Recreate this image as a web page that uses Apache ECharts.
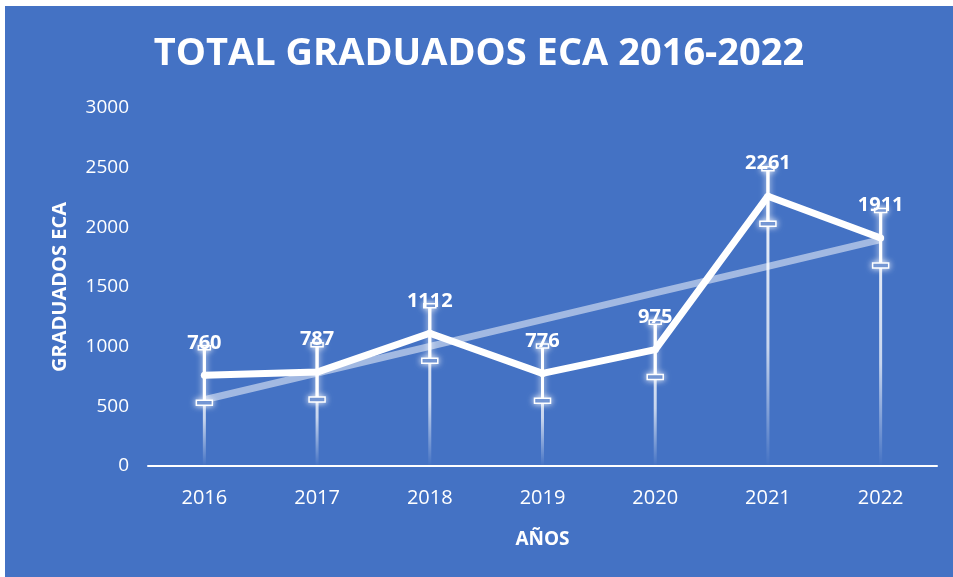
<!DOCTYPE html>
<html>
<head>
<meta charset="utf-8">
<script src="https://cdn.jsdelivr.net/npm/echarts@6/dist/echarts.min.js"></script>
<style>
html, body { margin:0; padding:0; background:#fff; }
#chart { position:absolute; left:5px; top:6px; width:948px; height:571px; }
</style>
</head>
<body>
<div id="chart"></div>
<script>
// datos
var years = ['2016', '2017', '2018', '2019', '2020', '2021', '2022'];
var graduados = [760, 787, 1112, 776, 975, 2261, 1911];
var tendencia = [555, 779, 1002, 1226, 1450, 1673, 1897];
var errorEst = [230, 230, 230, 230, 230, 230, 230];

var font = '"Open Sans", "Liberation Sans", sans-serif';

var puntos = years.map(function (y, i) { return [i, graduados[i], errorEst[i]]; });

echarts.init(document.getElementById('chart')).setOption({
    backgroundColor: '#4472C4',
    animation: false,
    title: {
        text: 'TOTAL GRADUADOS ECA 2016-2022',
        left: 'center',
        top: 24,
        textStyle: { color: '#fff', fontSize: 38, fontWeight: 'bold', fontFamily: font }
    },
    grid: { left: 143, right: 16, top: 102, bottom: 111 },
    xAxis: {
        type: 'category',
        data: years,
        name: 'AÑOS',
        nameLocation: 'middle',
        nameGap: 64,
        nameTextStyle: { color: '#fff', fontSize: 19, fontWeight: 'bold', fontFamily: font },
        axisLine: { lineStyle: { color: '#fff', width: 2 } },
        axisTick: { show: false },
        axisLabel: { color: '#fff', fontSize: 20, margin: 22, fontFamily: font }
    },
    yAxis: {
        type: 'value',
        min: 0,
        max: 3000,
        interval: 500,
        name: 'GRADUADOS ECA',
        nameLocation: 'middle',
        nameGap: 78,
        nameTextStyle: { color: '#fff', fontSize: 20, fontWeight: 'bold', fontFamily: font },
        axisLine: { show: false },
        axisTick: { show: false },
        splitLine: { show: false },
        axisLabel: {
            color: '#fff', fontSize: 19, margin: 19, fontFamily: font,
            formatter: function (v) { return String(v); }
        }
    },
    series: [
    {
        // lineas de caida hacia el eje
        type: 'custom',
        z: 1,
        data: puntos,
        renderItem: function (params, api) {
            var top = api.coord([api.value(0), api.value(1) + api.value(2)]);
            var bot = api.coord([api.value(0), 0]);
            return {
                type: 'line',
                shape: { x1: top[0], y1: top[1], x2: bot[0], y2: bot[1] },
                style: {
                    stroke: new echarts.graphic.LinearGradient(0, top[1], 0, bot[1], [
                        { offset: 0, color: 'rgba(255,255,255,0.95)' },
                        { offset: 0.6, color: 'rgba(255,255,255,0.7)' },
                        { offset: 1, color: 'rgba(255,255,255,0)' }
                    ], true),
                    lineWidth: 3
                }
            };
        }
    },
    {
        name: 'Tendencia',
        type: 'line',
        z: 2,
        data: tendencia,
        symbol: 'none',
        lineStyle: { color: 'rgba(255,255,255,0.5)', width: 7 }
    },
    {
        // barras de error
        type: 'custom',
        z: 3,
        data: puntos,
        renderItem: function (params, api) {
            var x = api.value(0), v = api.value(1), e = api.value(2);
            var hi = api.coord([x, v + e]);
            var lo = api.coord([x, v - e]);
            var glow = { shadowBlur: 6, shadowColor: 'rgba(255,255,255,0.9)' };
            return {
                type: 'group',
                children: [
                    {
                        type: 'line',
                        shape: { x1: hi[0], y1: hi[1], x2: lo[0], y2: lo[1] },
                        style: Object.assign({ stroke: '#fff', lineWidth: 3 }, glow)
                    },
                    {
                        type: 'rect',
                        shape: { x: hi[0] - 6, y: hi[1] - 2, width: 12, height: 4 },
                        style: Object.assign({ stroke: '#fff', fill: '#4472C4', lineWidth: 1.5 }, glow)
                    },
                    {
                        type: 'rect',
                        shape: { x: lo[0] - 8, y: lo[1] - 2.5, width: 16, height: 5 },
                        style: Object.assign({ stroke: '#fff', fill: '#4472C4', lineWidth: 1.5 }, glow)
                    }
                ]
            };
        }
    },
    {
        name: 'Graduados',
        type: 'line',
        z: 4,
        data: graduados,
        symbol: 'circle',
        symbolSize: 7,
        itemStyle: { color: '#fff' },
        lineStyle: { color: '#fff', width: 7 },
        label: {
            show: true,
            position: 'top',
            distance: 19,
            color: '#fff',
            fontSize: 20,
            fontWeight: 'bold',
            fontFamily: font
        }
    }]
});
</script>
</body>
</html>
